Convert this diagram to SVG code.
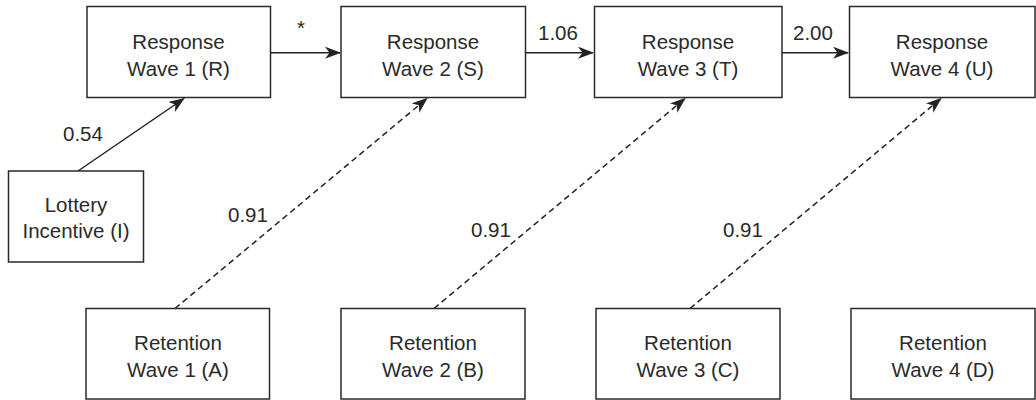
<svg xmlns="http://www.w3.org/2000/svg" width="1036" height="400" viewBox="0 0 1036 400">
<style>
.box{fill:#fff;stroke:#2a2a2a;stroke-width:1.5}
text{font-family:"Liberation Sans",Arial,sans-serif;font-size:20.5px;fill:#2a2a2a;text-anchor:middle}
.lbl{text-anchor:start}
.ln{stroke:#222;stroke-width:1.5;fill:none}
.dash{stroke-dasharray:6,4}
</style>
<defs>
<marker id="ah" markerUnits="userSpaceOnUse" markerWidth="16" markerHeight="12" viewBox="0 0 16 12" refX="15" refY="6" orient="auto">
<path d="M0,0 L16,6 L0,12 L4.5,6 z" fill="#222"/>
</marker>
</defs>
<rect width="1036" height="400" fill="#fff"/>
<g id="connectors">
<line class="ln" x1="270" y1="52.7" x2="340" y2="52.7" marker-end="url(#ah)"/>
<line class="ln" x1="525" y1="52.7" x2="593" y2="52.7" marker-end="url(#ah)"/>
<line class="ln" x1="782" y1="52.7" x2="848" y2="52.7" marker-end="url(#ah)"/>
<line class="ln" x1="78" y1="171" x2="184" y2="98.5" marker-end="url(#ah)"/>
<line class="ln dash" x1="175" y1="308.5" x2="427" y2="98.5" marker-end="url(#ah)"/>
<line class="ln dash" x1="434" y1="308.5" x2="685" y2="98.5" marker-end="url(#ah)"/>
<line class="ln dash" x1="690" y1="308.5" x2="941" y2="98.5" marker-end="url(#ah)"/>
<text class="lbl" x="297" y="35">*</text>
<text class="lbl" x="538" y="40">1.06</text>
<text class="lbl" x="793" y="40">2.00</text>
<text class="lbl" x="63" y="141">0.54</text>
<text class="lbl" x="228" y="222">0.91</text>
<text class="lbl" x="471" y="237">0.91</text>
<text class="lbl" x="723" y="237">0.91</text>
</g>
<g id="R"><rect class="box" x="87" y="6.5" width="183.5" height="91"/><text x="178.5" y="49">Response</text><text x="178.5" y="76">Wave 1 (R)</text></g>
<g id="S"><rect class="box" x="341" y="6.5" width="184.5" height="91"/><text x="433" y="49">Response</text><text x="433" y="76">Wave 2 (S)</text></g>
<g id="T"><rect class="box" x="594.5" y="6.5" width="187.5" height="91"/><text x="688" y="49">Response</text><text x="688" y="76">Wave 3 (T)</text></g>
<g id="U"><rect class="box" x="849.5" y="6.5" width="185.5" height="91"/><text x="942" y="49">Response</text><text x="942" y="76">Wave 4 (U)</text></g>
<g id="I"><rect class="box" x="8.5" y="171" width="135" height="91"/><text x="76" y="212">Lottery</text><text x="76" y="238">Incentive (I)</text></g>
<g id="A"><rect class="box" x="86" y="308.5" width="183.5" height="90.5"/><text x="178" y="349.5">Retention</text><text x="178" y="377">Wave 1 (A)</text></g>
<g id="B"><rect class="box" x="341" y="308.5" width="184" height="90.5"/><text x="433" y="349.5">Retention</text><text x="433" y="377">Wave 2 (B)</text></g>
<g id="C"><rect class="box" x="596" y="308.5" width="184" height="90.5"/><text x="688" y="349.5">Retention</text><text x="688" y="377">Wave 3 (C)</text></g>
<g id="D"><rect class="box" x="851" y="308.5" width="184" height="90.5"/><text x="943" y="349.5">Retention</text><text x="943" y="377">Wave 4 (D)</text></g>
</svg>
